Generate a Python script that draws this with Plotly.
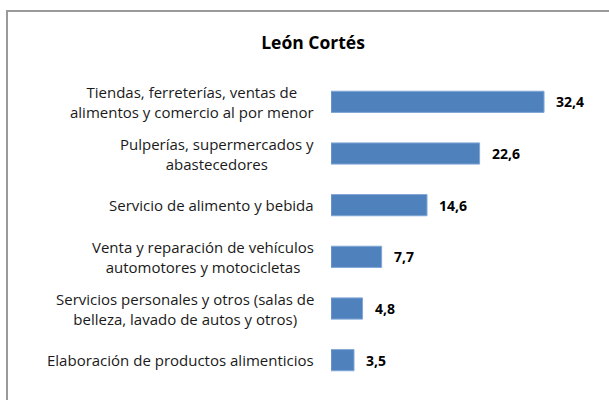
import plotly.graph_objects as go

categories = [
    "Tiendas, ferreterías, ventas de<br>alimentos y comercio al por menor",
    "Pulperías, supermercados y<br>abastecedores",
    "Servicio de alimento y bebida",
    "Venta y reparación de vehículos<br>automotores y motocicletas",
    "Servicios personales y otros (salas de<br>belleza, lavado de autos y otros)",
    "Elaboración de productos alimenticios",
]
values = [32.4, 22.6, 14.6, 7.7, 4.8, 3.5]
value_labels = ["32,4", "22,6", "14,6", "7,7", "4,8", "3,5"]

FONT = "Open Sans, Lato, sans-serif"

fig = go.Figure(
    go.Bar(
        x=values,
        y=categories,
        orientation="h",
        marker=dict(color="#4F81BD", line=dict(color="#7FA6D6", width=1)),
        width=0.41,
        hoverinfo="skip",
    )
)

# value labels
for v, lab, cat in zip(values, value_labels, categories):
    fig.add_annotation(
        x=v, y=cat, xref="x", yref="y", text="<b>" + lab + "</b>",
        showarrow=False, xanchor="left", xshift=10,
        font=dict(family=FONT, size=14, color="#000000"),
    )

# category labels (centred multi-line blocks, like the original)
for cat in categories:
    fig.add_annotation(
        x=0, y=cat, xref="paper", yref="y", text=cat,
        showarrow=False, xanchor="right", xshift=-15, align="center",
        font=dict(family=FONT, size=15, color="#1a1a1a"),
    )

fig.update_layout(
    width=609, height=400,
    margin=dict(l=331, r=15, t=76, b=14),
    paper_bgcolor="white", plot_bgcolor="white",
    showlegend=False,
    title=dict(
        text="<b>León Cortés</b>", x=313 / 609, xanchor="center",
        y=1 - 43 / 400, yanchor="middle", yref="container",
        font=dict(family=FONT, size=17.5, color="#000000"),
    ),
    xaxis=dict(range=[0, 40], visible=False, fixedrange=True),
    yaxis=dict(
        autorange="reversed", showgrid=False, zeroline=False, showline=False,
        ticks="", showticklabels=False, fixedrange=True,
    ),
    shapes=[
        dict(type="rect", xref="paper", yref="paper",
             x0=(7 - 331) / 263, x1=(625 - 331) / 263,
             y0=(386 - 420) / 310, y1=(386 - 11) / 310,
             line=dict(color="#9a9a9a", width=2), fillcolor="rgba(0,0,0,0)",
             layer="below"),
    ],
)

fig.write_html(
    "out.html",
    config={"displayModeBar": False},
    post_script="document.body.style.margin='0';",
)
